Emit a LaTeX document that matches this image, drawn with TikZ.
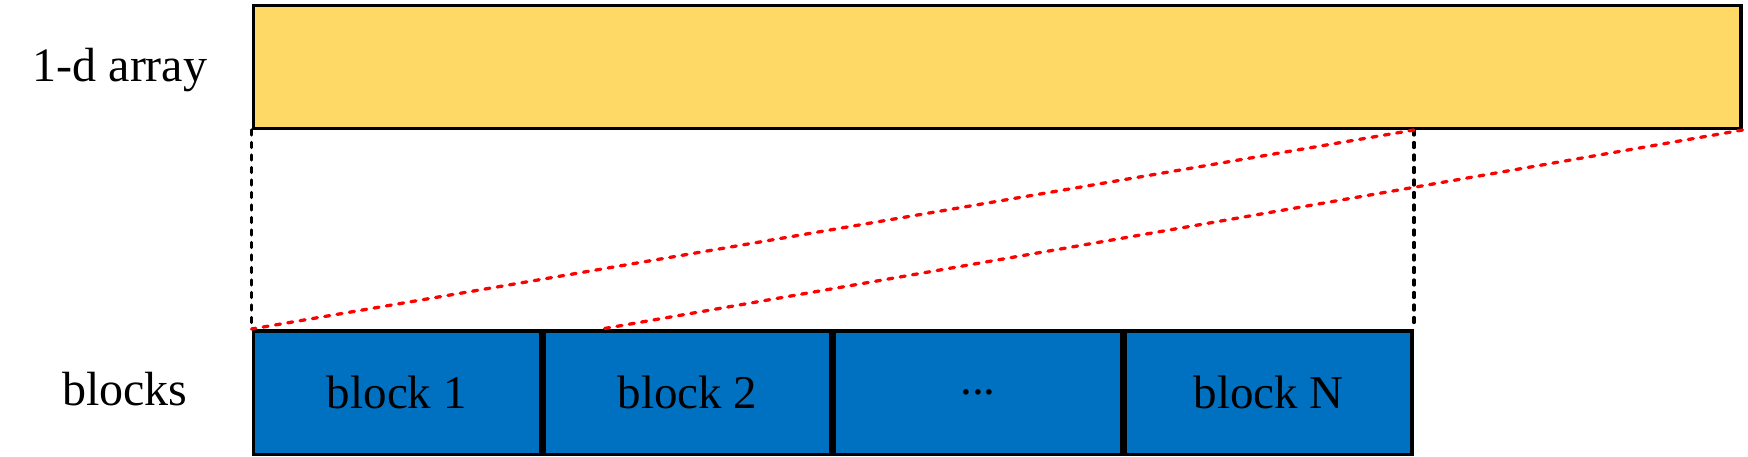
\documentclass[tikz,border=0pt]{standalone}
\usepackage{fontspec}
\setmainfont{Liberation Serif}
\usetikzlibrary{calc}
\definecolor{barYellow}{HTML}{FFD966}
\definecolor{blockBlue}{HTML}{0070C0}
\definecolor{lineRed}{HTML}{FF0000}
\begin{document}
\begin{tikzpicture}[x=1pt,y=-1pt,
  bigfont/.style={font=\fontsize{47}{56}\selectfont},
  arraybox/.style={draw=black,line width=3.5pt,fill=barYellow,inner sep=0pt,minimum width=1487.5pt,minimum height=123pt,anchor=north west},
  blockbox/.style={draw=black,line width=3.5pt,fill=blockBlue,inner sep=0pt,minimum width=287.1pt,minimum height=123.5pt,anchor=north west,bigfont},
  guideblack/.style={draw=black,line width=3.3pt,dash pattern=on 5pt off 7.5pt,line cap=round},
  guidered/.style={draw=lineRed,line width=3.3pt,dash pattern=on 5pt off 7.5pt,line cap=round},
  label/.style={font=\fontsize{48}{58}\selectfont,inner sep=0pt}]
\useasboundingbox (0,0) rectangle (1748,456);
\node[arraybox] (arr) at (251.5,3.5) {};
\node[blockbox] (b1) at (251.5,329) {block 1};
\node[blockbox] (b2) at (b1.north east) {block 2};
\node[blockbox] (b3) at (b2.north east) {...};
\node[blockbox] (b4) at (b3.north east) {block N};
\node[label] (l1) at (120,70) {1-d array};
\node[label] (l2) at (125,389) {blocks};
\coordinate (a4) at (arr.south -| b4.north east);
\coordinate (b2p) at ($(b2.north west)+(59.5,0)$);
\draw[guideblack] (arr.south west) -- (b1.north west);
\draw[guideblack] (a4) -- (b4.north east);
\draw[guidered] (a4) -- (b1.north west);
\draw[guidered] (arr.south east) -- (b2p);
\end{tikzpicture}
\end{document}
